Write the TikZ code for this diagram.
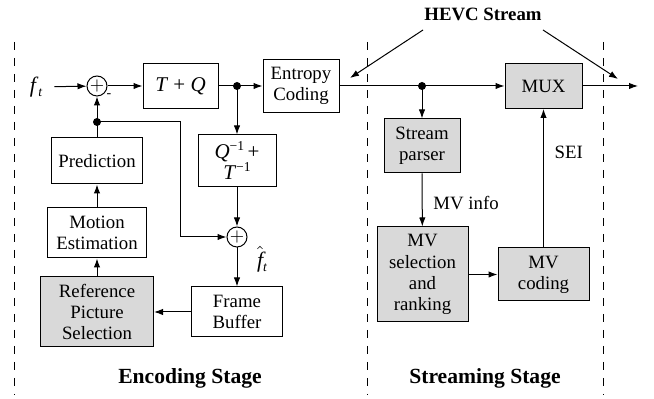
\documentclass[tikz,border=0pt]{standalone}
\usepackage{fontspec}
\setmainfont{Liberation Serif}
\usetikzlibrary{arrows.meta}
\definecolor{boxgray}{RGB}{217,217,217}
\newcommand{\vsub}[1]{\raisebox{-2.2pt}{\fontsize{6.8}{7}\selectfont\itshape #1}}
\newcommand{\vsup}[1]{\raisebox{4pt}{\fontsize{6.8}{7}\selectfont #1}}
\begin{document}
\begin{tikzpicture}[x=0.5pt,y=-0.5pt,
  font=\fontsize{9.4}{10.6}\selectfont,
  box/.style={draw,line width=0.5pt,align=center,inner sep=0pt},
  gbox/.style={box,fill=boxgray},
  sumnode/.style={circle,draw,line width=0.5pt,minimum size=10pt,inner sep=0pt},
  arr/.style={line width=0.5pt,-{Latex[length=4.5pt,width=3.2pt]}},
  ln/.style={line width=0.5pt},
  dotn/.style={circle,fill,inner sep=0pt,minimum size=4pt},
  stage/.style={font=\fontsize{10.8}{12}\selectfont\bfseries},
  sep/.style={line width=0.5pt,dash pattern=on 4pt off 4pt}]
\useasboundingbox (0,0) rectangle (654,399);

% separators
\draw[sep] (14,42) -- (14,395);
\draw[sep] (367,42) -- (367,395);
\draw[sep] (603,42) -- (603,395);

% encoding stage
\node[font=\fontsize{11}{12}\selectfont] (ft) at (36,87) {\textit{f}\vsub{t}};
\node[sumnode] (sum1) at (97,86) {$+$};
\node[font=\fontsize{7}{8}\selectfont] (minus) at (109,96) {-};
\node[box,minimum width=37.5pt,minimum height=22.5pt,font=\fontsize{10.5}{11}\selectfont] (TQ) at (180.5,86) {\textit{T} + \textit{Q}};
\node[box,minimum width=39pt,minimum height=26pt,font=\fontsize{10.5}{10.5}\selectfont] (Qinv) at (237,161) {\textit{Q}\vsup{−1}\,+\\\textit{T}\vsup{−1}};
\node[sumnode] (sum2) at (237,237) {$+$};
\node[font=\fontsize{11}{12}\selectfont] (fhat) at (262,259) {$\hat{\mbox{\itshape f}}$\vsub{t}};
\node[box,minimum width=45.5pt,minimum height=25pt] (FB) at (237,312) {Frame\\Buffer};
\node[gbox,minimum width=56.5pt,minimum height=35pt] (RPS) at (97,312) {Reference\\Picture\\Selection};
\node[box,minimum width=49.5pt,minimum height=25pt] (ME) at (97,233) {Motion\\Estimation};
\node[box,minimum width=45.5pt,minimum height=23pt] (Pred) at (97,161) {Prediction};
\node[box,minimum width=38pt,minimum height=26.5pt] (EC) at (301,86) {Entropy\\Coding};

\node[dotn] (d1) at (237,86) {};
\node[dotn] (d2) at (97,122) {};
\coordinate (c2) at (180,237);

\draw[arr,shorten <=2.5pt] (ft) -- (sum1);
\draw[arr] (sum1) -- (TQ);
\draw[arr] (TQ) -- (EC);
\draw[arr] (d1.center) -- (Qinv);
\draw[arr] (Qinv) -- (sum2);
\draw[arr] (sum2) -- (FB);
\draw[arr] (FB) -- (RPS);
\draw[arr] (RPS) -- (ME);
\draw[arr] (ME) -- (Pred);
\draw[arr] (Pred) -- (sum1);
\draw[arr] (d2.center) -| (c2) -- (sum2);

% streaming stage
\node[gbox,minimum width=38pt,minimum height=27pt] (SP) at (422,146) {Stream\\parser};
\node[gbox,minimum width=45.5pt,minimum height=47.5pt] (MVS) at (422.5,274.5) {MV\\selection\\and\\ranking};
\node[gbox,minimum width=45.5pt,minimum height=26.5pt] (MVC) at (543.5,274.5) {MV\\coding};
\node[gbox,minimum width=38.5pt,minimum height=22.5pt] (MUX) at (543.5,86) {MUX};
\node[dotn] (d3) at (422,86) {};
\coordinate (out) at (638,86);

\draw[arr] (EC) -- (MUX);
\draw[arr] (d3.center) -- (SP);
\draw[arr] (SP) -- node[right=2pt,pos=0.55] {MV info} (MVS);
\draw[arr] (MVS.east |- MVC.west) -- (MVC);
\draw[arr] (MVC) -- node[right=2pt,pos=0.69] {SEI} (MUX);
\draw[arr] (MUX) -- (out);

% HEVC stream
\node[font=\fontsize{9.4}{10.6}\selectfont\bfseries] (hevc) at (483,14) {HEVC Stream};
\coordinate (h0) at (423,30);
\coordinate (h1) at (350,78);
\coordinate (h2) at (543,30);
\coordinate (h3) at (618,79);
\draw[arr] (h0) -- (h1);
\draw[arr] (h2) -- (h3);

% stage labels
\node[stage] (enc) at (190,378) {Encoding Stage};
\node[stage] (str) at (485,378) {Streaming Stage};
\end{tikzpicture}
\end{document}
